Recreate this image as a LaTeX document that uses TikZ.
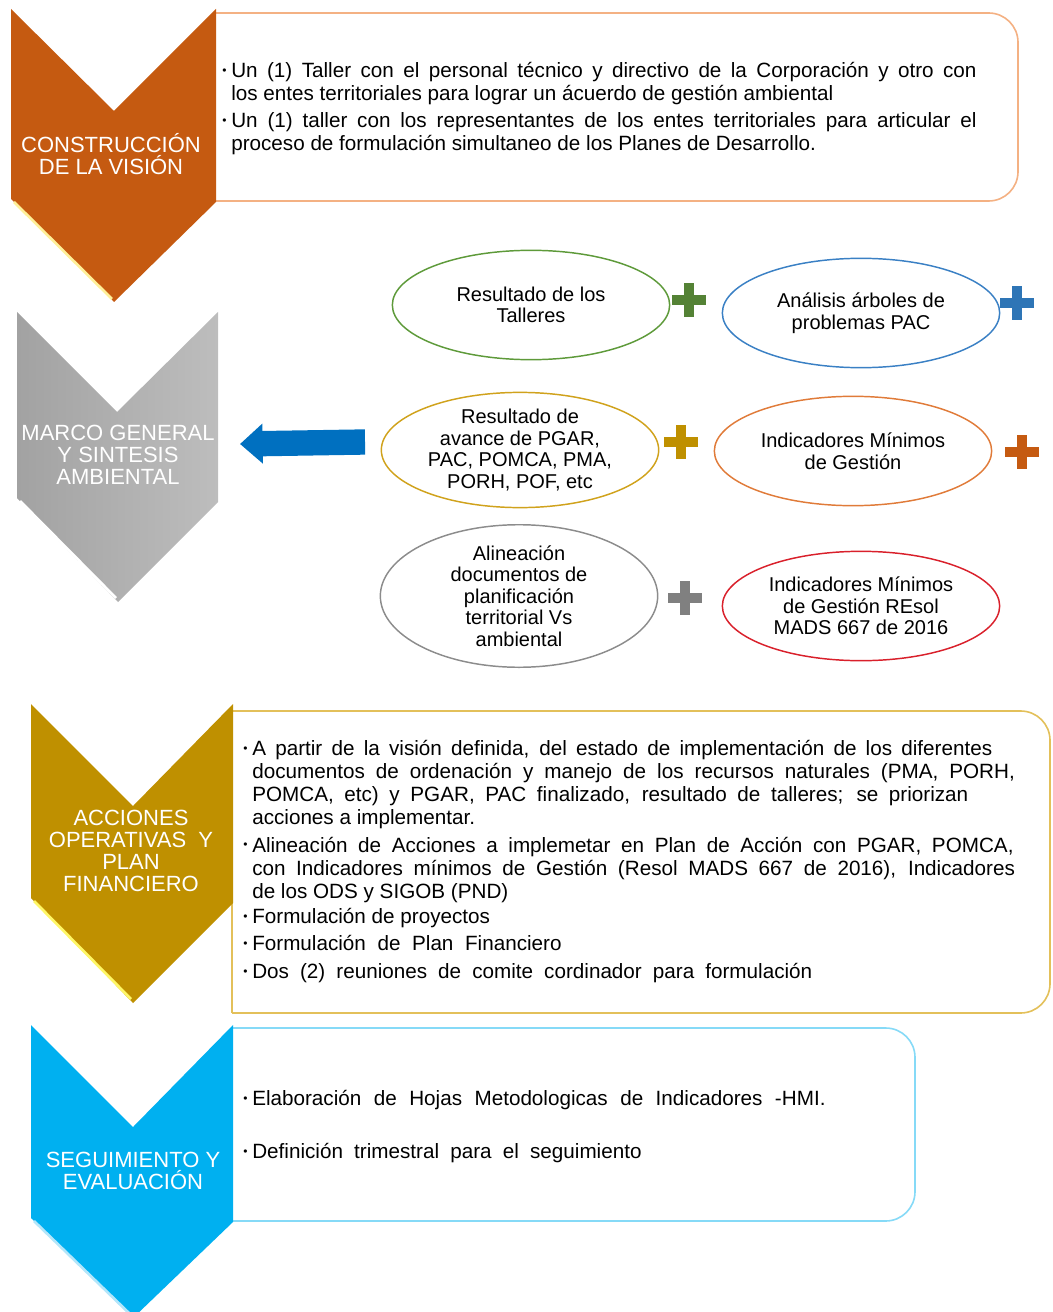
\documentclass[tikz,border=0pt]{standalone}
\usepackage{fontspec}
\setmainfont{Liberation Sans}
\usetikzlibrary{shapes.geometric,arrows.meta}

\definecolor{cvorange}{HTML}{C55A11}
\definecolor{cvgold}{HTML}{BF9000}
\definecolor{cvcyan}{HTML}{00B0F0}
\definecolor{cvgrayL}{HTML}{A2A2A2}
\definecolor{cvgrayR}{HTML}{BDBDBD}
\definecolor{lnorange}{HTML}{F4B183}
\definecolor{lngold}{HTML}{E3C05A}
\definecolor{lncyan}{HTML}{86DAF7}
\definecolor{arrblue}{HTML}{0070C0}
\definecolor{pgreen}{HTML}{548235}
\definecolor{pblue}{HTML}{2E75B6}
\definecolor{pyellow}{HTML}{BF9000}
\definecolor{porange}{HTML}{C55A11}
\definecolor{pgray}{HTML}{808080}
\definecolor{egreen}{HTML}{5E9A3A}
\definecolor{eblue}{HTML}{3A80C4}
\definecolor{eyellow}{HTML}{D0A21C}
\definecolor{eorange}{HTML}{E07B39}
\definecolor{egray}{HTML}{8C8C8C}
\definecolor{ered}{HTML}{D9202B}

\newcommand{\bul}{\makebox[6.75pt][l]{\raisebox{.3ex}{\fontsize{9}{9}\selectfont •}}}
\newcommand{\fullline}[2]{\makebox[#1][s]{#2}}

\begin{document}
\begin{tikzpicture}[x=0.75pt,y=-0.75pt,
    chev/.style={text=white, align=center, font=\fontsize{16.5}{16.5}\selectfont},
    bubble/.style={ellipse, draw, line width=1.1pt, minimum width=208pt, minimum height=82pt, inner sep=0pt, align=center, font=\fontsize{15}{16.1}\selectfont},
    boxtext/.style={anchor=north west, inner sep=0pt, align=left, font=\fontsize{15.5}{17.25}\selectfont},
    panel/.style={draw=#1, line width=1.2pt, fill=white, rounded corners=22pt}]
    \useasboundingbox (0,0) rectangle (1052,1312);

    % Boxes
    \begin{scope}
        \clip (213,0) rectangle (1060,1312);
        \draw[panel=lnorange] (150,13) rectangle (1018,201);
    \end{scope}
    \begin{scope}
        \clip (232,0) rectangle (1060,1312);
        \draw[panel=lngold] (150,711) rectangle (1050,1013);
    \end{scope}
    \draw[lngold, line width=1.2pt] (232,711) -- (232,1013);
    \begin{scope}
        \clip (233,0) rectangle (1060,1312);
        \draw[panel=lncyan] (150,1028) rectangle (915,1221);
    \end{scope}

    % Chevrons
    \fill[cvorange] (11,9) -- (114,111) -- (216,9) -- (216,202) -- (114,302) -- (11,199) -- cycle;
    \draw[orange!30!yellow!40, line width=2pt] (14,202) -- (112,299);
    \shade[left color=cvgrayL, right color=cvgrayR] (17,312) -- (117,412) -- (218,312) -- (218,502) -- (118,602) -- (17,498) -- cycle;
    \draw[white, line width=2pt] (20,501) -- (116,598);
    \fill[cvgold] (31,704) -- (133,806) -- (233,704) -- (233,903) -- (133,1003) -- (31,898) -- cycle;
    \draw[yellow!60!white, line width=2pt] (34,901) -- (131,999);
    \fill[cvcyan] (31,1025) -- (133,1127) -- (233,1025) -- (233,1222) -- (133,1318) -- (31,1218) -- cycle;
    \draw[cyan!30!white, line width=2pt] (34,1221) -- (131,1315);

    \node[chev] (cvis) at (111,154) {CONSTRUCCIÓN\\DE LA VISIÓN};
    \node[chev] (cmarco) at (118,455) {MARCO GENERAL\\Y SINTESIS\\AMBIENTAL};
    \node[chev] (cacc) at (131,851) {ACCIONES\\OPERATIVAS\ \ Y\\PLAN\\FINANCIERO};
    \node[chev] (cseg) at (133,1171) {SEGUIMIENTO Y\\EVALUACIÓN};

    % Box texts
    \node[boxtext] (vis) at (222,62) {%
        \bul\fullline{559pt}{Un (1) Taller con el personal técnico y directivo de la Corporación y otro con}\\
        \hspace*{6.75pt}los entes territoriales para lograr un ácuerdo de gestión ambiental\\[3pt]
        \bul\fullline{559pt}{Un (1) taller con los representantes de los entes territoriales para articular el}\\
        \hspace*{6.75pt}proceso de formulación simultaneo de los Planes de Desarrollo.};
    \node[boxtext] (acc) at (243,740) {%
        \bul\fullline{555pt}{A partir de la visión definida, del estado de implementación de los diferentes}\\
        \hspace*{6.75pt}\fullline{572pt}{documentos de ordenación y manejo de los recursos naturales (PMA, PORH,}\\
        \hspace*{6.75pt}\fullline{537pt}{POMCA, etc) y PGAR, PAC finalizado, resultado de talleres; se priorizan}\\
        \hspace*{6.75pt}acciones a implementar.\\[3.5pt]
        \bul\fullline{571pt}{Alineación de Acciones a implemetar en Plan de Acción con PGAR, POMCA,}\\
        \hspace*{6.75pt}\fullline{572pt}{con Indicadores mínimos de Gestión (Resol MADS 667 de 2016), Indicadores}\\
        \hspace*{6.75pt}de los ODS y SIGOB (PND)\\[2pt]
        \bul Formulación de proyectos\\[3pt]
        \bul\fullline{232pt}{Formulación de Plan Financiero}\\[3.5pt]
        \bul\fullline{420pt}{Dos (2) reuniones de comite cordinador para formulación}};
    \node[boxtext] (seg) at (243,1090) {%
        \bul\fullline{430pt}{Elaboración de Hojas Metodologicas de Indicadores -HMI.}\\[22.5pt]
        \bul\fullline{292pt}{Definición trimestral para el seguimiento}};

    % Ellipses
    \node[bubble, draw=egreen] (taller) at (531,305) {Resultado de los\\Talleres};
    \node[bubble, draw=eblue] (arboles) at (861,313) {Análisis árboles de\\problemas PAC};
    \node[bubble, draw=eyellow] (avance) at (520,450) {Resultado de\\avance de PGAR,\\PAC, POMCA, PMA,\\PORH, POF, etc};
    \node[bubble, draw=eorange] (indmin) at (853,451) {Indicadores Mínimos\\de Gestión};
    \node[bubble, draw=egray] (alinea) at (519,596) {Alineación\\documentos de\\planificación\\territorial Vs\\ambiental};
    \node[bubble, draw=ered] (indres) at (861,606) {Indicadores Mínimos\\de Gestión REsol\\MADS 667 de 2016};

    % Plus signs
    \foreach \x/\y/\c in {689/300/pgreen, 1017/303/pblue, 681/442/pyellow, 1022/452/porange, 685/598/pgray}{
        \fill[\c] (\x-17,\y-5) rectangle (\x+17,\y+5);
        \fill[\c] (\x-5,\y-17) rectangle (\x+5,\y+17);
    }

    % Arrow
    \coordinate (arrS) at (365,442);
    \coordinate (arrE) at (240,444);
    \draw[arrblue, line width=19pt, -{Triangle[length=17pt,width=29pt]}] (arrS) -- (arrE);
\end{tikzpicture}
\end{document}
